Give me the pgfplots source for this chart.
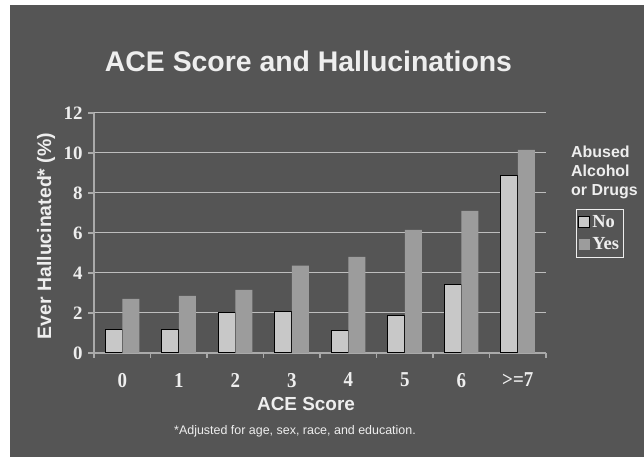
\documentclass[border=0pt]{standalone}
\usepackage{pgfplots}
\pgfplotsset{compat=1.18}
\usepackage{fontspec}
\setmainfont{Liberation Serif}
\newfontfamily\arial{Liberation Sans}
\definecolor{bgc}{HTML}{555555}
\definecolor{lt}{HTML}{EEEEEE}
\definecolor{gridc}{HTML}{BDBDBD}
\definecolor{axisc}{HTML}{AAAAAA}
\definecolor{noc}{HTML}{C8C8C8}
\definecolor{yesc}{HTML}{9C9C9C}
\begin{document}
\begin{tikzpicture}[x=1bp,y=1bp]
\fill[white] (0,0) rectangle (644,457);
\fill[bgc] (10,0) rectangle (644,452);
\begin{axis}[
  at={(94bp,104bp)}, anchor=south west,
  scale only axis, width=452bp, height=240bp,
  xmin=-0.5, xmax=7.5, ymin=0, ymax=12,
  ybar=0pt, bar width=17bp,
  axis x line*=bottom, axis y line*=left,
  axis line style={-, draw=axisc, line width=1.2pt},
  ymajorgrids, grid style={draw=gridc, line width=1pt},
  xtick={0,...,7},
  xticklabels={0,1,2,3,4,5,6,>=7},
  minor xtick={-0.5,0.5,...,7.5},
  ytick={0,2,...,12},
  tick align=outside,
  major tick length=6bp, minor tick length=5bp,
  xtick style={draw=none},
  minor x tick style={draw=axisc, line width=1.2pt},
  ytick style={draw=axisc, line width=1.2pt},
  /pgf/number format/assume math mode=true,
  yticklabel style={font=\bfseries\fontsize{19}{19}\selectfont, text=lt, xshift=-2bp},
  xticklabel style={font=\bfseries\fontsize{19}{19}\selectfont, text=lt, yscale=1.12, yshift=-9bp},
  legend style={at={(1.0664,0.6)}, anchor=north west, draw=lt, fill=none,
    line width=0.8pt, text=lt, font=\bfseries\fontsize{18.5}{18.5}\selectfont,
    inner xsep=2bp, inner ysep=4bp, row sep=5bp,
    cells={anchor=west}},
  legend image code/.code={\path[#1] (0bp,-5.5bp) rectangle (11bp,5.5bp);},
]
\addplot[fill=noc, draw=black, line width=1pt] coordinates {
(0,1.18) (1,1.18) (2,2.02) (3,2.08) (4,1.13) (5,1.88) (6,3.43) (7,8.88)};
\addplot[fill=yesc, draw=none] coordinates {
(0,2.70) (1,2.85) (2,3.15) (3,4.37) (4,4.80) (5,6.15) (6,7.10) (7,10.15)};
\legend{No,Yes}
\end{axis}
\node[anchor=base, text=lt, font=\arial\bfseries\fontsize{28.5}{34}\selectfont] at (308.5,385) {ACE Score and Hallucinations};
\node[anchor=base, text=lt, font=\arial\bfseries\fontsize{19}{22}\selectfont] at (306,46) {ACE Score};
\node[anchor=base, text=lt, font=\arial\fontsize{12.5}{15}\selectfont] at (295,22) {*Adjusted for age, sex, race, and education.};
\node[anchor=base, rotate=90, text=lt, font=\arial\bfseries\fontsize{19.5}{22}\selectfont] at (51,221) {Ever Hallucinated* (\%)};
\node[anchor=north west, align=left, inner sep=0pt, text=lt, font=\arial\bfseries\fontsize{16}{19}\selectfont] at (571,311.5) {Abused\\Alcohol\\or Drugs};
\end{tikzpicture}
\end{document}
